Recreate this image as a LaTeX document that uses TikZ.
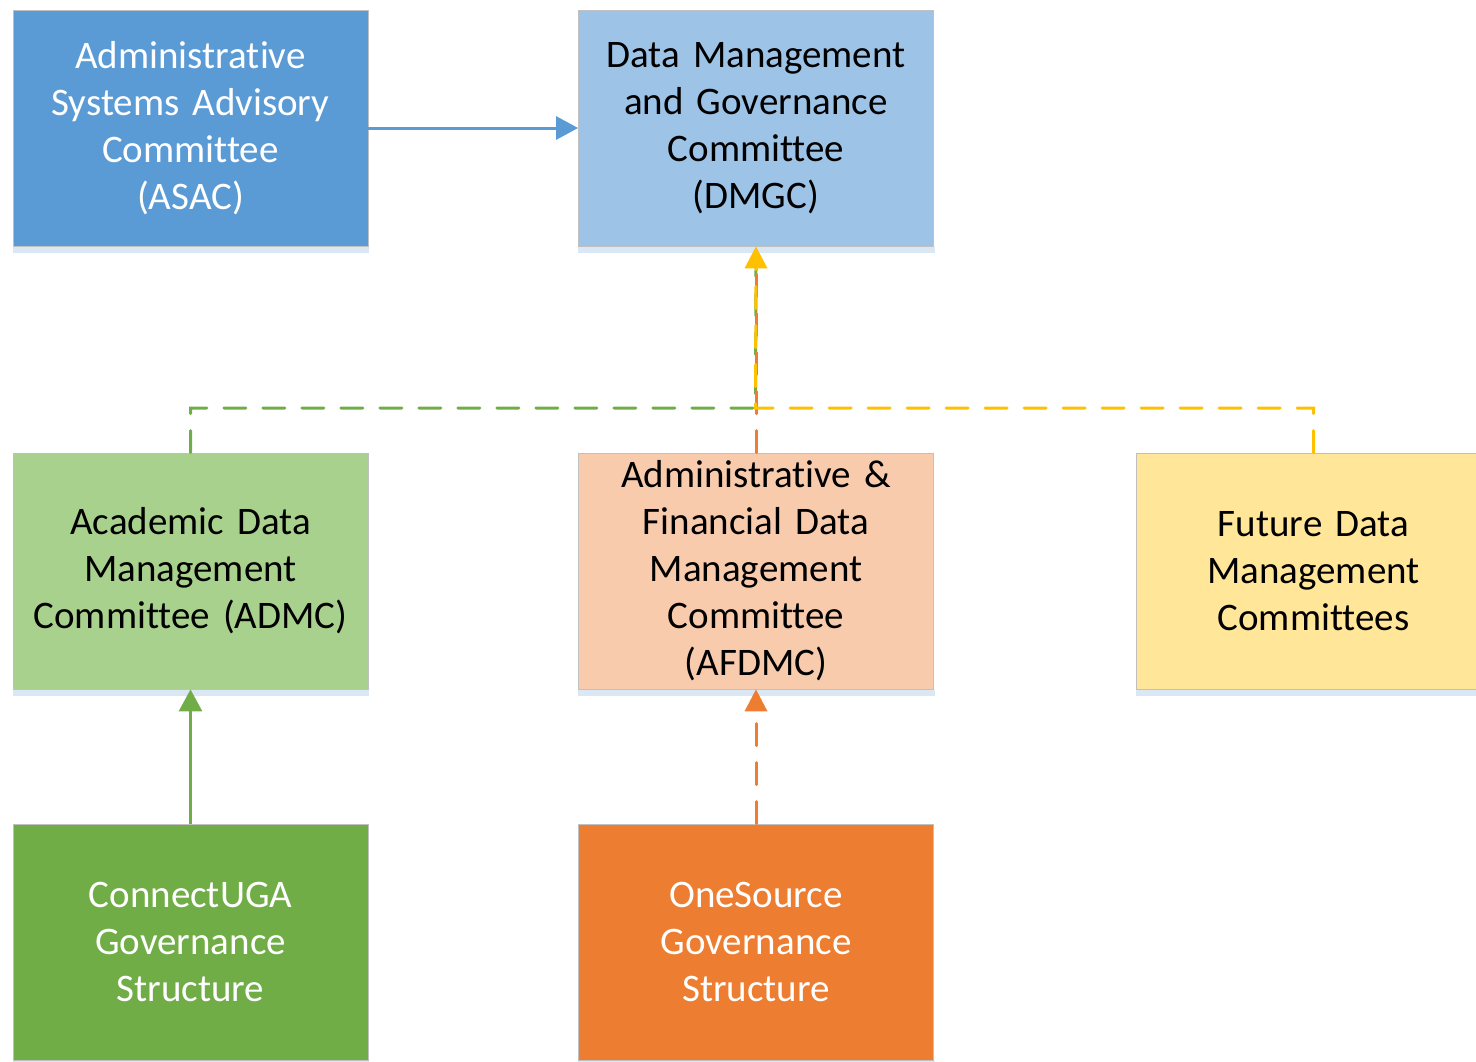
\documentclass[tikz,border=0pt]{standalone}
\usepackage{fontspec}
\setmainfont{Carlito}[Ligatures=NoCommon, WordSpace=0.8]
\usetikzlibrary{arrows.meta}
\definecolor{cBlue}{HTML}{5B9BD5}
\definecolor{cLBlue}{HTML}{9DC3E6}
\definecolor{cLGreen}{HTML}{A9D18E}
\definecolor{cPeach}{HTML}{F8CBAD}
\definecolor{cLYellow}{HTML}{FFE699}
\definecolor{cGreen}{HTML}{70AD47}
\definecolor{cOrange}{HTML}{ED7D31}
\definecolor{cYellow}{HTML}{FFC000}
\definecolor{cStrip}{HTML}{DAE7F5}
\definecolor{cBorder}{HTML}{C0C0C0}
\tikzset{
  boxnode/.style={draw=cBorder, line width=0.8pt, minimum width=355pt, minimum height=236pt,
    inner sep=0pt, align=center, text width=340pt,
    font=\fontsize{39}{47}\selectfont},
  conn/.style={line width=3pt, -{Triangle[width=23pt,length=22pt]}},
  dashconn/.style={line width=3pt, dash pattern=on 22pt off 17pt, line cap=round}
}
\begin{document}
\begin{tikzpicture}[x=1pt,y=-1pt]
\useasboundingbox (0,0) rectangle (1476,1061);
\node[boxnode, fill=cBlue, text=white] (asac) at (190.5,128) {Administrative\\Systems Advisory\\Committee\\(ASAC)};
\node[boxnode, fill=cLBlue] (dmgc) at (756,128) {Data Management\\and Governance\\Committee\\(DMGC)};
\node[boxnode, fill=cLGreen] (admc) at (190.5,571) {Academic Data\\Management\\Committee (ADMC)};
\node[boxnode, fill=cPeach] (afdmc) at (756,571) {Administrative \&\\Financial Data\\Management\\Committee\\(AFDMC)};
\node[boxnode, fill=cLYellow] (fdmc) at (1313.5,571) {Future Data\\Management\\Committees};
\node[boxnode, fill=cGreen, text=white] (cuga) at (190.5,942) {ConnectUGA\\Governance\\Structure};
\node[boxnode, fill=cOrange, text=white] (osrc) at (756,942) {OneSource\\Governance\\Structure};
\foreach \n in {asac,dmgc,admc,afdmc,fdmc,cuga,osrc}
  \fill[cStrip] ([yshift=-0.5pt]\n.south west) rectangle ([xshift=1pt,yshift=-6.5pt]\n.south east);
\coordinate (jn) at (755.5,408);
% connectors
\draw[conn, cBlue] (asac.east) -- (dmgc.west);
\draw[conn, cGreen] (cuga.north) -- (admc.south);
\draw[dashconn, cOrange] (osrc.north) -- ([yshift=-22pt]afdmc.south);
\fill[cOrange] (afdmc.south) -- ++(-11.5,22) -- ++(23,0) -- cycle;
\draw[dashconn, cGreen] (admc.north) |- (jn) -- ([yshift=-22pt]dmgc.south);
\draw[dashconn, cOrange] (afdmc.north) -- ([yshift=-22pt]dmgc.south);
\draw[dashconn, cYellow] (fdmc.north) |- (jn) -- ([yshift=-22pt]dmgc.south);
\fill[cYellow] (dmgc.south) -- ++(-11.5,22) -- ++(23,0) -- cycle;
\end{tikzpicture}
\end{document}
